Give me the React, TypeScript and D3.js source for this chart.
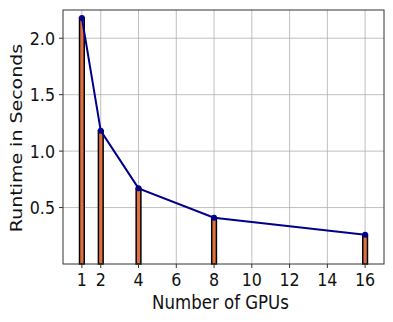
import React from "react";
import * as d3 from "d3";

const gpus = [1, 2, 4, 8, 16];
const runtimes = [2.18, 1.18, 0.67, 0.41, 0.26];
const xTicks = [1, 2, 4, 6, 8, 10, 12, 14, 16];
const yTicks = [0.5, 1.0, 1.5, 2.0];

const W = 393, H = 322;
const M = { left: 63, right: 9, top: 10, bottom: 58 };

export default function App() {
  const x = d3.scaleLinear().domain([0, 17]).range([M.left, W - M.right]);
  const y = d3.scaleLinear().domain([0, 2.25]).range([H - M.bottom, M.top]);
  const barW = 0.25;
  const line = d3.line<number>().x((_, i) => x(gpus[i])).y((d) => y(d));
  const font = "DejaVu Sans, sans-serif";
  const sx = 0.86;
  return (
    <svg width={W} height={H} style={{ position: "absolute", left: 0, top: 0 }}>
      <rect width={W} height={H} fill="#fff" />
      {xTicks.map((t) => (
        <line key={"gx" + t} x1={x(t)} x2={x(t)} y1={M.top} y2={H - M.bottom} stroke="#b0b0b0" strokeWidth={0.8} />
      ))}
      {yTicks.map((t) => (
        <line key={"gy" + t} x1={M.left} x2={W - M.right} y1={y(t)} y2={y(t)} stroke="#b0b0b0" strokeWidth={0.8} />
      ))}
      {gpus.map((g, i) => (
        <rect
          key={"b" + g}
          x={x(g - barW / 2)}
          width={x(barW) - x(0)}
          y={y(runtimes[i])}
          height={y(0) - y(runtimes[i])}
          fill="#e07040"
          stroke="#000"
          strokeWidth={1.5}
        />
      ))}
      <path d={line(runtimes) || ""} fill="none" stroke="#00008b" strokeWidth={2} />
      {gpus.map((g, i) => (
        <circle key={"m" + g} cx={x(g)} cy={y(runtimes[i])} r={3} fill="#00008b" />
      ))}
      <rect x={M.left} y={M.top} width={W - M.left - M.right} height={H - M.top - M.bottom} fill="none" stroke="#333" strokeWidth={1} />
      {xTicks.map((t) => (
        <g key={"tx" + t}>
          <line x1={x(t)} x2={x(t)} y1={H - M.bottom} y2={H - M.bottom + 4} stroke="#333" />
          <text transform={`translate(${x(t)},${H - M.bottom + 22}) scale(${sx},1)`} textAnchor="middle" fontFamily={font} fontSize={18.5} fill="#111">{t}</text>
        </g>
      ))}
      {yTicks.map((t) => (
        <g key={"ty" + t}>
          <line x1={M.left - 4} x2={M.left} y1={y(t)} y2={y(t)} stroke="#333" />
          <text transform={`translate(${M.left - 8},${y(t)}) scale(${sx},1)`} dy="0.36em" textAnchor="end" fontFamily={font} fontSize={18.5} fill="#111">{t.toFixed(1)}</text>
        </g>
      ))}
      <text transform={`translate(${(M.left + W - M.right) / 2 - 3},${H - 13}) scale(${sx},1)`} textAnchor="middle" fontFamily={font} fontSize={19.3} fill="#111">Number of GPUs</text>
      <text transform={`translate(22,${(M.top + H - M.bottom) / 2 + 1}) scale(${sx},1) rotate(-90)`} textAnchor="middle" fontFamily={font} fontSize={19} fill="#111">Runtime in Seconds</text>
    </svg>
  );
}
